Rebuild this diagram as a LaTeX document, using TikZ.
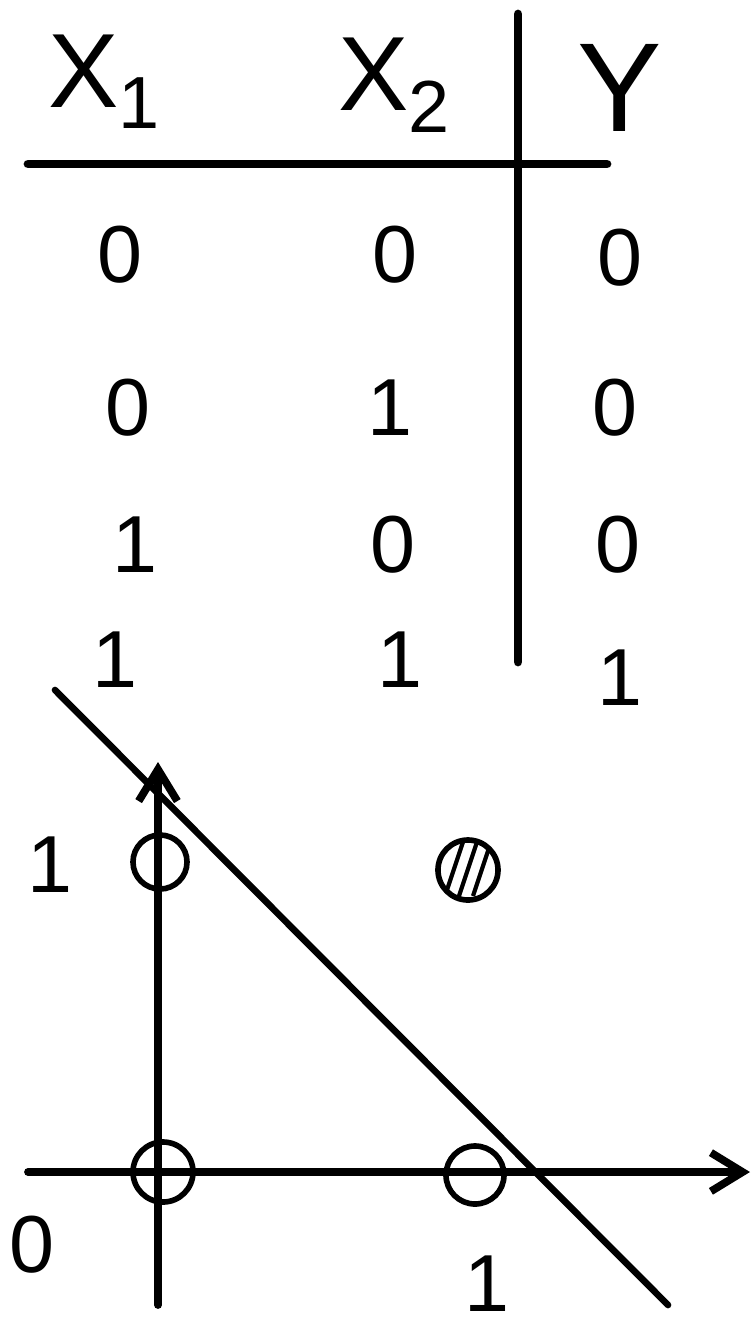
\documentclass[tikz,border=0pt]{standalone}
\usepackage{amsmath,amssymb}
\usepackage{fontspec}
\setsansfont{Liberation Sans}
\usetikzlibrary{arrows.meta}

\tikzset{
  pen/.style={line width=2.2pt, line cap=round},
  val/.style={font=\fontsize{23}{28}\sffamily, inner sep=0pt},
  hdr/.style={font=\fontsize{30}{36}\sffamily, inner sep=0pt},
  pt/.style={circle, draw, line width=1.6pt, minimum size=0.58cm, inner sep=0pt},
}

\begin{document}
\begin{tikzpicture}[x=0.01cm,y=-0.01cm]
  \useasboundingbox (0,0) rectangle (753,1326);
  % truth table
  \node[hdr] (hx1) at (105,82) {X\textsubscript{1}};
  \node[hdr] (hx2) at (395,85) {X\textsubscript{2}};
  \node[hdr, font=\fontsize{36}{42}\sffamily] (hy) at (620,88) {Y};
  \coordinate (hl) at (28,164);
  \coordinate (hr) at (607,164);
  \coordinate (vt) at (518,14);
  \coordinate (vb) at (518,662);
  \draw[pen, line width=2.5pt] (hl) -- (hr);
  \draw[pen, line width=2.5pt] (vt) -- (vb);
  \node[val] (a1) at (120,255) {0};
  \node[val] (b1) at (395,255) {0};
  \node[val] (c1) at (620,258) {0};
  \node[val] (a2) at (128,408) {0};
  \node[val] (b2) at (390,408) {1};
  \node[val] (c2) at (615,408) {0};
  \node[val] (a3) at (135,545) {1};
  \node[val] (b3) at (393,545) {0};
  \node[val] (c3) at (618,545) {0};
  \node[val] (a4) at (115,660) {1};
  \node[val] (b4) at (400,660) {1};
  \node[val] (c4) at (620,678) {1};
  % graph
  \coordinate (xs) at (28,1172);
  \coordinate (xe) at (750,1172);
  \coordinate (ys) at (158,1305);
  \coordinate (ye) at (158,762);
  \coordinate (ls) at (55,690);
  \coordinate (le) at (668,1305);
  \draw[pen, -{Straight Barb[length=9pt,width=11pt]}] (xs) -- (xe);
  \draw[pen, -{Straight Barb[length=9pt,width=11pt]}] (ys) -- (ye);
  \draw[pen, line width=1.9pt] (ls) -- (le);
  \node[pt, minimum size=0.6cm] (p00) at (163,1172) {};
  \node[pt, minimum size=0.54cm] (p01) at (160,862) {};
  \node[pt, minimum size=0.58cm] (p10) at (475,1175) {};
  \node[pt, minimum size=0.6cm] (p11) at (468,870) {};
  \begin{scope}
    \clip (p11.center) circle (0.28cm);
    \foreach \dx in {-14,0,14}
      \draw[line width=1.2pt] (468+\dx-9,896) -- (468+\dx+9,842);
  \end{scope}
  \node[val] (l1) at (50,865) {1};
  \node[val] (l0) at (32,1245) {0};
  \node[val] (l2) at (487,1284) {1};
\end{tikzpicture}
\end{document}
